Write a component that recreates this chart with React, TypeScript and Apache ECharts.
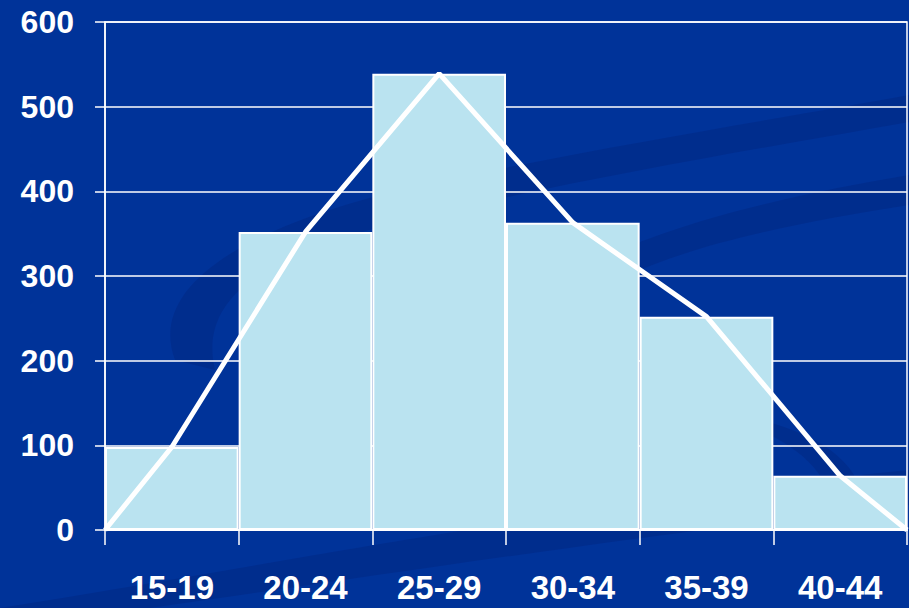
import React, { useEffect, useRef } from "react";
import * as echarts from "echarts";

const categories = ["15-19", "20-24", "25-29", "30-34", "35-39", "40-44"];
const frequencies = [98, 352, 539, 363, 252, 64];
const yTicks = [0, 100, 200, 300, 400, 500, 600];

const SWIRL_A =
  "M 175 360 C 145 280, 260 215, 470 175 C 640 140, 800 115, 909 95 L 909 122 C 780 145, 600 175, 450 210 C 290 245, 195 285, 215 370 Z";
const SWIRL_B =
  "M 540 300 C 600 240, 760 200, 909 175 L 909 205 C 780 225, 640 255, 590 300 Z";
const SWIRL_C =
  "M 760 420 C 840 440, 875 480, 860 530 L 830 530 C 840 490, 815 455, 760 430 Z";
const SWIRL_D = "M 0 608 C 300 560, 600 500, 909 470 L 909 505 C 600 540, 350 580, 150 608 Z";

let registered = false;
function registerShapes() {
  if (registered) return;
  registered = true;
  echarts.graphic.registerShape("swirlA", echarts.graphic.extendPath(SWIRL_A, {}));
  echarts.graphic.registerShape("swirlB", echarts.graphic.extendPath(SWIRL_B, {}));
  echarts.graphic.registerShape("swirlC", echarts.graphic.extendPath(SWIRL_C, {}));
  echarts.graphic.registerShape("swirlD", echarts.graphic.extendPath(SWIRL_D, {}));
}

export default function App() {
  const ref = useRef<HTMLDivElement>(null);

  useEffect(() => {
    if (!ref.current) return;
    registerShapes();
    const chart = echarts.init(ref.current, undefined, { renderer: "svg" });

    const polygon: [number, number][] = [[0, 0]];
    frequencies.forEach((v, i) => polygon.push([i + 0.5, v]));
    polygon.push([categories.length, 0]);

    const font = "'Liberation Sans', Arial, sans-serif";
    const swirlFill = "rgba(0, 35, 120, 0.35)";

    chart.setOption({
      animation: false,
      backgroundColor: "#003399",
      graphic: [
        { type: "swirlA", x: 0, y: 0, z: -10, silent: true, style: { fill: swirlFill } },
        { type: "swirlB", x: 0, y: 0, z: -10, silent: true, style: { fill: swirlFill } },
        { type: "swirlC", x: 0, y: 0, z: -10, silent: true, style: { fill: swirlFill } },
        { type: "swirlD", x: 0, y: 0, z: -10, silent: true, style: { fill: swirlFill } },
      ],
      grid: {
        left: 105,
        right: 2,
        top: 22,
        bottom: 78,
        show: true,
        borderColor: "#ffffff",
        borderWidth: 1.5,
        backgroundColor: "transparent",
      },
      xAxis: [
        {
          type: "category",
          data: categories,
          boundaryGap: true,
          axisLine: { show: true, lineStyle: { color: "#ffffff", width: 2 } },
          axisTick: { show: true, length: 15, lineStyle: { color: "#ffffff", width: 1.5 } },
          axisLabel: {
            color: "#ffffff",
            fontFamily: font,
            fontWeight: "bold",
            fontSize: 33,
            margin: 41,
          },
          splitLine: { show: false },
        },
        {
          type: "value",
          min: 0,
          max: categories.length,
          show: false,
        },
      ],
      yAxis: {
        type: "value",
        min: 0,
        max: 600,
        interval: 100,
        axisLine: { show: true, lineStyle: { color: "#ffffff", width: 1.5 } },
        axisTick: { show: true, length: 10, lineStyle: { color: "#ffffff", width: 1.5 } },
        axisLabel: {
          color: "#ffffff",
          fontFamily: font,
          fontWeight: "bold",
          fontSize: 32,
          margin: 31,
          customValues: yTicks,
        },
        splitLine: { show: true, lineStyle: { color: "#ffffff", width: 1.5 } },
      },
      series: [
        {
          type: "bar",
          xAxisIndex: 0,
          data: frequencies,
          barWidth: "100%",
          barCategoryGap: 0,
          itemStyle: { color: "#BAE3F0", borderColor: "#ffffff", borderWidth: 2 },
          z: 3,
        },
        {
          type: "line",
          xAxisIndex: 1,
          data: polygon,
          symbol: "none",
          lineStyle: { color: "#ffffff", width: 5 },
          z: 5,
        },
      ],
    });

    return () => chart.dispose();
  }, []);

  return (
    <div
      ref={ref}
      style={{ position: "fixed", left: 0, top: 0, width: 909, height: 608 }}
    />
  );
}
